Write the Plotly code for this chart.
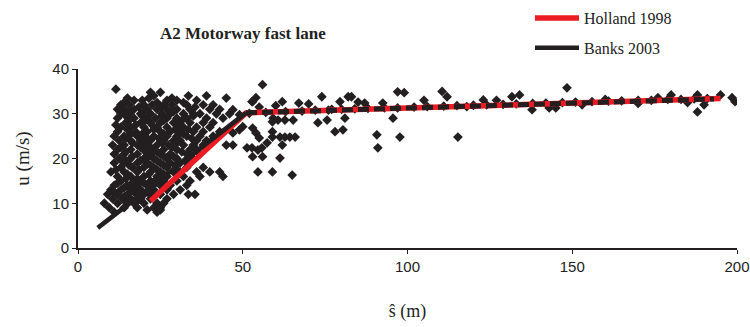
import plotly.graph_objects as go

# ---- data ----
# dense cloud, written row by row: speed level -> spacings
cloud_rows = {
    35.5: [11.5],
    34.8: [22, 25],
    34.0: [23, 33.5, 39],
    33.5: [45, 15, 21.5, 28.5],
    33.0: [17, 19.5, 27, 30, 36],
    32.5: [14, 24, 32],
    32.0: [13, 15.5, 20, 22.5, 26, 28.5, 33, 38, 41],
    31.5: [18.5, 25, 35.5],
    31.0: [12, 14, 17, 21, 24, 27, 30, 34, 40, 43],
    30.5: [16, 20, 29],
    30.0: [13, 15.5, 19, 22, 25.5, 28, 32, 35, 37, 42, 46],
    29.5: [14.5, 19.5, 25.5, 35],
    29.0: [12, 17, 21, 23.5, 27, 30, 33, 39, 44],
    28.5: [15.5, 20.5, 26, 31.5],
    28.0: [14.5, 19, 22, 25, 29, 34, 38, 41],
    27.5: [11.5, 17.5, 22.5, 30.5],
    27.0: [13, 16, 20, 24, 27, 32, 36, 40],
    26.5: [15, 23, 29.5, 33.5],
    26.0: [12, 17.5, 21, 25, 28, 31, 35, 38, 43],
    25.5: [16, 19.5, 26, 32],
    25.0: [11, 14, 18, 20, 23, 27, 30, 33, 37, 41],
    24.5: [14.5, 21, 24.5, 34.5],
    24.0: [12.5, 16, 19, 22, 26, 29, 31, 36, 39],
    23.5: [16.5, 20, 25.5, 30],
    23.0: [10.5, 14, 18, 21, 24, 27.5, 32, 35, 38, 39, 45, 47],
    22.5: [13, 19, 22, 28.5],
    22.0: [12, 16, 20, 23, 26, 30, 34, 36],
    21.5: [14.5, 20.5, 24, 31.5],
    21.0: [11, 14, 18, 22, 25, 28, 33, 37],
    20.5: [16.5, 21.5, 26, 29],
    20.0: [12.5, 16, 20, 23, 27, 30, 35],
    19.5: [14.5, 19, 24, 32.5],
    19.0: [11, 14, 18, 21, 25, 28, 31, 34],
    18.5: [15.5, 22, 26, 29.5],
    18.0: [13, 16.5, 20, 23, 27, 33, 38],
    17.5: [11.5, 18.5, 24, 30],
    17.0: [10, 14, 18, 22, 25, 29, 31, 36, 40, 43],
    16.5: [15, 21.5, 26],
    16.0: [12, 16, 20, 24, 27, 32, 37, 44],
    15.5: [14.5, 18, 24],
    15.0: [13, 17, 19, 22, 26, 30, 34],
    14.5: [12, 16.5, 20, 23.5],
    14.0: [11, 15, 18, 21, 25, 28, 33],
    13.5: [14, 17.5, 22],
    13.0: [10, 13, 16, 19, 23, 27, 31],
    12.5: [11, 17, 21],
    12.0: [9, 12, 15, 18, 20, 22, 25, 29, 33.5, 35.5],
    11.5: [14, 18.5],
    11.0: [10.5, 13.5, 16, 19, 22, 27],
    10.5: [15, 18],
    10.0: [8, 12, 15, 17, 20, 24, 26],
    9.0: [9.5, 14, 18, 23, 25],
    8.5: [21, 25],
    8.0: [11, 24],
}

# sparse points beyond the dense cloud
sparse_s = [47, 56, 54, 53, 62, 67, 74, 79.5, 82, 83, 87, 92.5, 97, 99, 110.5, 112,
            123, 131.7, 134, 148.4, 180, 188, 195, 198.5, 199.4,
            49, 50, 49, 47, 53, 54, 55, 51.3, 52.8, 53, 54.6, 55.8, 56, 57.4, 59, 59,
            61.3, 62.8, 64.3, 65.9, 62, 61.3, 54.6, 59, 65, 59, 59.2, 60.7, 62.8, 65.3,
            72.8, 75.6, 78, 80.4, 81, 90.7, 91, 95.6, 97.7, 115.3, 137.8, 143, 145,
            188, 190, 52.8, 55, 60, 70, 77, 85, 105, 118, 127, 153, 160, 170, 176, 185]
sparse_u = [30.9, 36.5, 33.6, 32.7, 32.7, 32.4, 33.8, 32.7, 33.8, 33.8, 32.4, 32.4, 34.9, 34.7, 35.0, 33.8,
            33.1, 33.8, 34.2, 35.8, 34.2, 34.2, 34.2, 33.6, 32.7,
            29.8, 27.1, 26.4, 25.7, 26.8, 25.7, 24.6, 22.4, 22.4, 20.4, 21.9, 22.4, 20.4, 23.5, 26.0, 24.8,
            24.8, 24.8, 24.8, 24.8, 23.0, 20.1, 17.0, 17.0, 16.3, 28.2, 29.0, 28.6, 28.6, 28.6,
            28.0, 28.6, 26.0, 26.4, 29.0, 25.3, 22.4, 29.0, 24.8, 24.8, 30.9, 31.3, 31.3,
            30.4, 32.0, 32.7, 31.5, 31.8, 32.2, 31.0, 32.6, 33.0, 31.6, 33.0, 32.0, 33.2, 32.3, 33.6, 32.5]

# points lying along the free-flow branch
band_s = [52, 57, 63, 68, 72, 76, 80, 84, 88, 93, 97, 102, 106, 111, 115, 120, 124, 129,
          133, 138, 142, 147, 151, 156, 161, 165, 170, 174, 179, 183, 187, 191]
band_u = [30.1, 30.3, 30.5, 30.6, 30.8, 30.8, 31.0, 31.1, 31.2, 31.3, 31.3, 31.5, 31.6, 31.7, 31.8, 31.9, 32.0, 32.1,
          32.2, 32.3, 32.4, 32.5, 32.6, 32.7, 32.8, 32.9, 33.0, 33.0, 33.2, 33.2, 33.3, 33.4]

holland_s = [22, 51, 195]
holland_u = [10.5, 30.2, 33.4]
banks_cong_s = [6, 51]
banks_cong_u = [4.5, 30.2]
banks_free_s = [51, 193]
banks_free_u = [30.2, 33.3]

x_ticks = [0, 50, 100, 150, 200]
y_ticks = [0, 10, 20, 30, 40]

cloud_s, cloud_u = [], []
for u, ss in cloud_rows.items():
    for s in ss:
        cloud_s.append(s)
        cloud_u.append(u)

pts_s = cloud_s + sparse_s + band_s
pts_u = cloud_u + sparse_u + band_u

ink = "#231f20"
serif = "Liberation Serif, Times New Roman"

W, H = 750, 327
L, T, R, B = 78, 69, 13, 79
PW, PH = W - L - R, H - T - B

def px_x(px):  # page pixel -> paper x
    return (px - L) / PW

def px_y(py):  # page pixel -> paper y
    return 1 + (T - py) / PH

fig = go.Figure()
fig.add_trace(go.Scatter(x=pts_s, y=pts_u, mode="markers", showlegend=False,
                         marker=dict(symbol="diamond", size=7.5, color=ink, line=dict(width=0))))
fig.add_trace(go.Scatter(x=holland_s, y=holland_u, mode="lines", name="Holland 1998",
                         line=dict(color="#ed1c24", width=5.5), legendgroup="h"))
fig.add_trace(go.Scatter(x=banks_cong_s, y=banks_cong_u, mode="lines", name="Banks 2003",
                         line=dict(color=ink, width=4.5), legendgroup="b"))
fig.add_trace(go.Scatter(x=banks_free_s, y=banks_free_u, mode="lines", showlegend=False,
                         line=dict(color=ink, width=5, dash="11px,5px"), legendgroup="b"))

fig.update_layout(
    width=W, height=H,
    margin=dict(l=L, r=R, t=T, b=B, autoexpand=False),
    paper_bgcolor="white", plot_bgcolor="white",
    font=dict(family="Liberation Sans, Arial", size=15, color="#222"),
    legend=dict(x=px_x(530), y=px_y(1), xanchor="left", yanchor="top",
                font=dict(family=serif, size=16, color="#222"),
                itemwidth=44, tracegroupgap=6, bgcolor="rgba(0,0,0,0)"),
)
fig.add_annotation(text="<b>A2 Motorway fast lane</b>", xref="paper", yref="paper",
                   x=px_x(158), y=px_y(33), xanchor="left", yanchor="middle",
                   showarrow=False, font=dict(family=serif, size=17, color="#222"))
fig.update_xaxes(range=[0, 200], tickvals=x_ticks, showline=True, linecolor=ink, linewidth=2,
                 ticks="outside", ticklen=4, tickcolor=ink, showgrid=False, zeroline=False,
                 automargin=False,
                 title=dict(text="ŝ (m)", standoff=30, font=dict(family=serif, size=18, color="#222")))
fig.update_yaxes(range=[0, 40], tickvals=y_ticks, showline=True, linecolor=ink, linewidth=2,
                 ticks="outside", ticklen=4, tickcolor=ink, showgrid=False, zeroline=False,
                 automargin=False,
                 title=dict(text="u (m/s)", standoff=18, font=dict(family=serif, size=19, color="#222")))

fig.write_html("out.html", config={"displayModeBar": False},
               post_script="document.body.style.margin='0';")
